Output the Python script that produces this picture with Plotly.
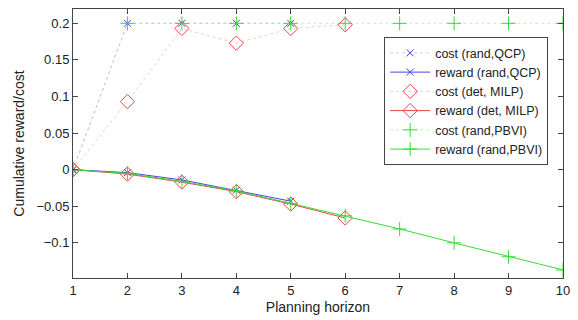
import plotly.graph_objects as go

horizon = [1, 2, 3, 4, 5, 6, 7, 8, 9, 10]

cost_qcp = [0, 0.2, 0.2, 0.2, 0.2]
reward_qcp = [0, -0.004, -0.014, -0.028, -0.043]
cost_milp = [0, 0.093, 0.193, 0.173, 0.193, 0.198]
reward_milp = [0, -0.006, -0.017, -0.030, -0.047, -0.066]
cost_pbvi = [0, 0.2, 0.2, 0.2, 0.2, 0.2, 0.2, 0.2, 0.2, 0.2]
reward_pbvi = [0, -0.005, -0.016, -0.029, -0.046, -0.063, -0.081, -0.100, -0.119, -0.137]

names = ["cost (rand,QCP)", "reward (rand,QCP)", "cost (det, MILP)",
         "reward (det, MILP)", "cost (rand,PBVI)", "reward (rand,PBVI)"]

BLUE = "#4444dd"
RED = "#ee4444"
GREEN = "#33dd33"
DOT = {BLUE: "rgba(170,170,200,0.6)", RED: "rgba(230,160,160,0.55)", GREEN: "rgba(160,220,160,0.55)"}

fig = go.Figure()

def add(y, name, color, symbol, msize, dotted):
    fig.add_trace(go.Scatter(
        x=horizon[:len(y)], y=y, name=name, mode="lines+markers",
        line=dict(color=DOT[color] if dotted else color,
                  width=1, dash="dot" if dotted else "solid"),
        marker=dict(symbol=symbol, size=msize, color=color,
                    line=dict(color=color, width=1)),
    ))

add(cost_qcp, names[0], BLUE, "x-thin", 7, True)
add(reward_qcp, names[1], BLUE, "x-thin", 7, False)
add(cost_milp, names[2], RED, "diamond-open", 11, True)
add(reward_milp, names[3], RED, "diamond-open", 11, False)
add(cost_pbvi, names[4], GREEN, "cross-thin", 10, True)
add(reward_pbvi, names[5], GREEN, "cross-thin", 10, False)

FONT = "Liberation Sans, Arial"
axis_common = dict(showline=True, linecolor="#444", linewidth=1, mirror="ticks",
                   ticks="inside", ticklen=5, tickcolor="#444", showgrid=False,
                   zeroline=False, tickfont=dict(family=FONT, size=13, color="#222"))

fig.update_layout(
    width=578, height=320,
    margin=dict(l=73, r=12, t=8, b=37),
    paper_bgcolor="white", plot_bgcolor="white",
    font=dict(family=FONT, size=13, color="#222"),
    xaxis=dict(range=[1, 10], tickvals=horizon, **axis_common,
               title=dict(text="Planning horizon", standoff=5,
                          font=dict(family=FONT, size=14))),
    yaxis=dict(range=[-0.148, 0.2196], tickvals=[-0.1, -0.05, 0, 0.05, 0.1, 0.15, 0.2],
               ticktext=["\u22120.1", "\u22120.05", "0", "0.05", "0.1", "0.15", "0.2"],
               **axis_common,
               title=dict(text="Cumulative reward/cost", standoff=8,
                          font=dict(family=FONT, size=14))),
    legend=dict(x=0.635, y=0.895, xanchor="left", yanchor="top",
                bgcolor="white", bordercolor="#444", borderwidth=1,
                font=dict(family=FONT, size=12.5, color="#222"),
                tracegroupgap=0, itemwidth=40),
    showlegend=True,
)

fig.write_html("out.html", config={"displayModeBar": False},
               post_script="document.body.style.margin='0';")
